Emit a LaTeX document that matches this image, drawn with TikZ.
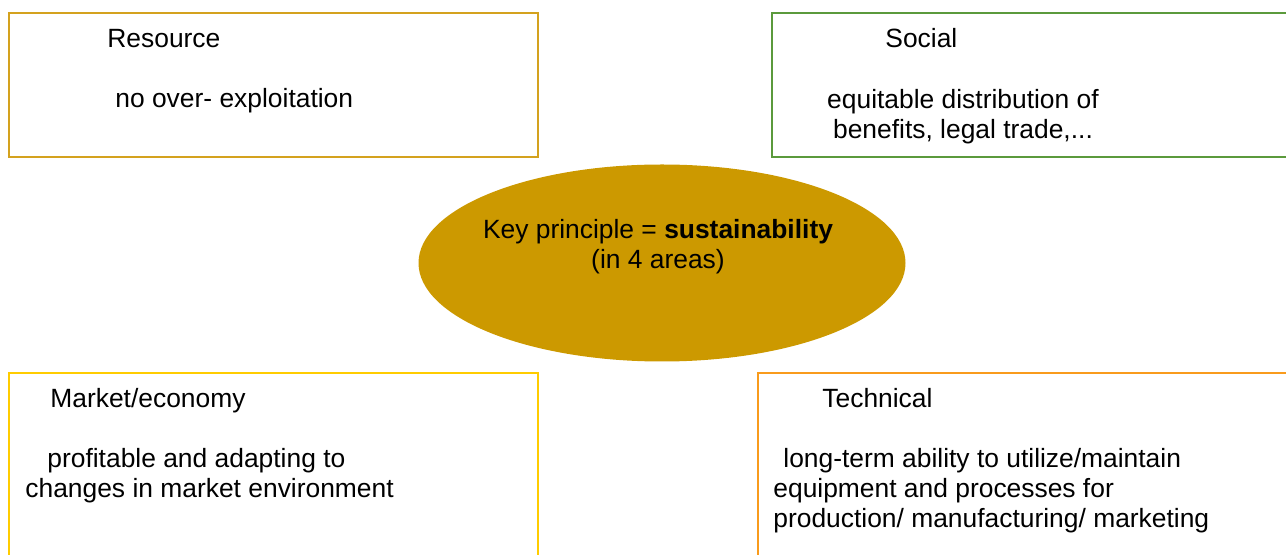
\documentclass[tikz,border=0pt]{standalone}
\usepackage{fontspec}
\setmainfont{Liberation Sans}
\usetikzlibrary{shapes}
\definecolor{keygold}{HTML}{CC9900}
\definecolor{resgold}{HTML}{D4A21E}
\definecolor{socgreen}{HTML}{5B9A3C}
\definecolor{mktyellow}{HTML}{FFCC00}
\definecolor{techorange}{HTML}{F99B1C}

\begin{document}
\begin{tikzpicture}[x=0.5pt,y=-0.5pt,
  areabox/.style={line width=1pt},
  areatext/.style={inner sep=0pt, anchor=base west, align=left, font=\fontsize{13.2}{15.2}\selectfont},
  hub/.style={ellipse, fill=keygold, inner sep=0pt, minimum width=243.5pt, minimum height=98.5pt}]
\useasboundingbox (0,0) rectangle (1286,555);

% the four areas
\draw [areabox, resgold] (9,13) rectangle (538,157);
\draw [areabox, socgreen] (772,13) rectangle (1300,157);
\draw [areabox, mktyellow] (9,373) rectangle (538,570);
\draw [areabox, techorange] (758,373) rectangle (1300,570);

\node [hub] (key) at (662,263) {};
% multi-line texts sit on their last baseline
\node [areatext, anchor=base, align=center] (keytext) at (658,269) {Key principle = \textbf{sustainability}\\(in 4 areas)};

\node [areatext] (res) at (107,48) {Resource};
\node [areatext] (resbody) at (115,108) {no over- exploitation};

\node [areatext] (soc) at (885,48) {Social};
\node [areatext, anchor=base, align=center] (socbody) at (963,139) {equitable distribution of\\benefits, legal trade,...};

\node [areatext] (mkt) at (50,408) {Market/economy};
\node [areatext] (mktbody) at (25,498) {\hspace*{11pt}profitable and adapting to\\changes in market environment};

\node [areatext] (tech) at (822,408) {Technical};
\node [areatext] (techbody) at (773,528) {\hspace*{5pt}long-term ability to utilize/maintain\\equipment and processes for\\production/ manufacturing/ marketing};
\end{tikzpicture}
\end{document}
